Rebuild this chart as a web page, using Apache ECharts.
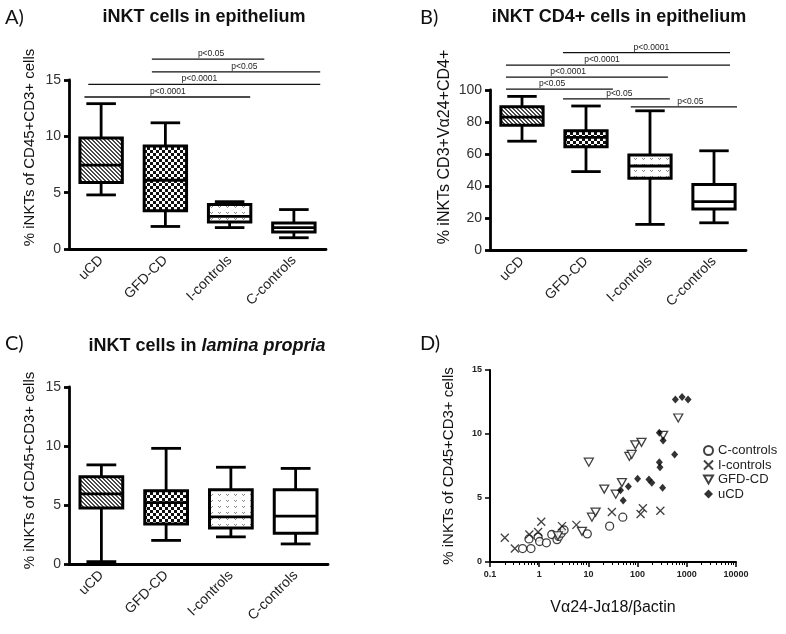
<!DOCTYPE html>
<html>
<head>
<meta charset="utf-8">
<script src="https://cdn.jsdelivr.net/npm/echarts@6/dist/echarts.min.js"></script>
<style>
  html, body { margin: 0; padding: 0; background: #fff; }
  #main { width: 786px; height: 634px; }
</style>
</head>
<body>
<div id="main"></div>
<script>
var groups = ['uCD', 'GFD-CD', 'I-controls', 'C-controls'];

// box stats per group: [min, Q1, median, Q3, max]
var epiBoxes = [[4.8, 5.9, 7.45, 9.85, 12.9], [2.0, 3.4, 6.1, 9.15, 11.2], [1.9, 2.4, 2.9, 3.95, 4.2], [1.0, 1.5, 1.9, 2.3, 3.5]];
var cd4Boxes = [[68, 78, 83, 89.6, 96], [49, 64.6, 70.4, 74.6, 90], [16, 44.8, 52.5, 59.4, 87], [17, 25.6, 30.2, 41, 62]];
var lpBoxes = [[0.2, 4.75, 5.95, 7.4, 8.4], [2.0, 3.4, 5.2, 6.2, 9.8], [2.3, 3.05, 4.0, 6.3, 8.2], [1.7, 2.6, 4.05, 6.3, 8.1]];

// significance bars: [y, from, to, label x] (x in category units), plus labels
var epiSig = [[16.86, 0.79, 2.54, 1.71], [15.73, 0.79, 3.41, 2.23], [14.61, -0.2, 3.41, 1.53], [13.49, -0.26, 2.32, 1.04]];
var epiSigText = ['p<0.05', 'p<0.05', 'p<0.0001', 'p<0.0001'];
var cd4Sig = [[123.3, 0.64, 3.25, 2.02], [115.6, -0.25, 3.25, 1.25], [108.1, -0.25, 2.28, 0.72], [100.6, -0.25, 1.42, 0.47], [94.4, 0.64, 2.31, 1.52], [89.4, 1.70, 3.36, 2.63]];
var cd4SigText = ['p<0.0001', 'p<0.0001', 'p<0.0001', 'p<0.05', 'p<0.05', 'p<0.05'];

// panel D: [V alpha24-J alpha18 / beta actin, % iNKTs]
var cControls = [[0.46, 1.05], [0.68, 1.05], [0.62, 1.8], [0.95, 1.95], [1.02, 1.6], [1.4, 1.5], [1.8, 2.15], [2.3, 1.75], [2.5, 2.0], [2.8, 2.25], [3.2, 2.5], [9.5, 2.2], [27, 2.8], [50, 3.5]];
var iControls = [[0.2, 1.9], [0.32, 1.05], [0.63, 2.15], [0.95, 2.35], [1.1, 3.15], [2.9, 2.8], [5.7, 2.9], [30, 3.9], [115, 3.75], [128, 4.2], [290, 4.0]];
var gfdCD = [[2.4, 2.05], [7.4, 2.4], [11.8, 3.5], [14, 3.9], [10.2, 7.8], [21, 5.7], [36, 5.3], [48, 6.2], [68, 8.25], [76, 8.4], [90, 9.15], [120, 9.35], [330, 9.9], [670, 11.25]];
var uCD = [[45, 5.6], [51, 4.8], [65, 5.9], [100, 6.5], [170, 6.45], [195, 6.2], [277, 7.8], [285, 7.4], [277, 10.1], [330, 9.5], [322, 5.8], [565, 8.4], [585, 12.7], [800, 12.9], [1060, 12.7]];

var FONT = 'Liberation Sans';

function makePattern(kind) {
    var c = document.createElement('canvas');
    var g = c.getContext('2d');
    if (kind === 'hatch') {
        c.width = 4; c.height = 4;
        g.fillStyle = '#fff'; g.fillRect(0, 0, 4, 4);
        g.fillStyle = '#4a4a4a';
        for (var i = 0; i < 4; i++) {
            g.fillRect(i, i, 1, 1);
            g.fillRect((i + 1) % 4, i, 1, 1);
        }
    } else if (kind === 'check') {
        c.width = 6; c.height = 6;
        g.fillStyle = '#fff'; g.fillRect(0, 0, 6, 6);
        g.fillStyle = '#111';
        g.fillRect(0, 0, 3, 3);
        g.fillRect(3, 3, 3, 3);
    } else if (kind === 'vees') {
        c.width = 8; c.height = 6;
        g.fillStyle = '#fff'; g.fillRect(0, 0, 8, 6);
        g.fillStyle = '#888';
        g.fillRect(2, 2, 1, 1);
        g.fillRect(4, 2, 1, 1);
        g.fillRect(3, 3, 1, 1);
    } else {
        c.width = 2; c.height = 2;
        g.fillStyle = '#fff'; g.fillRect(0, 0, 2, 2);
    }
    return {image: c, repeat: 'repeat'};
}
var fills = [makePattern('hatch'), makePattern('check'), makePattern('vees'), makePattern('plain')];

function boxRows(stats) {
    return stats.map(function (s, i) { return [i].concat(s); });
}

function renderBox(params, api) {
    var x = api.value(0);
    var lo = api.coord([x, api.value(1)]);
    var q1 = api.coord([x, api.value(2)]);
    var md = api.coord([x, api.value(3)]);
    var q3 = api.coord([x, api.value(4)]);
    var hi = api.coord([x, api.value(5)]);
    var bw = api.size([1, 0])[0];
    var half = bw * 0.33, cap = bw * 0.23;
    var cx = md[0];
    var st = {stroke: '#000', lineWidth: 2.8};
    return {
        type: 'group',
        children: [
            {type: 'line', shape: {x1: cx, y1: hi[1], x2: cx, y2: q3[1]}, style: st},
            {type: 'line', shape: {x1: cx, y1: q1[1], x2: cx, y2: lo[1]}, style: st},
            {type: 'line', shape: {x1: cx - cap, y1: hi[1], x2: cx + cap, y2: hi[1]}, style: st},
            {type: 'line', shape: {x1: cx - cap, y1: lo[1], x2: cx + cap, y2: lo[1]}, style: st},
            {type: 'rect', shape: {x: cx - half, y: q3[1], width: half * 2, height: q1[1] - q3[1]},
                style: {fill: fills[params.dataIndex], stroke: '#000', lineWidth: 3}},
            {type: 'line', shape: {x1: cx - half, y1: md[1], x2: cx + half, y2: md[1]}, style: st}
        ]
    };
}

function sigRenderer(texts) {
    return function (params, api) {
        var y = api.value(1);
        var base = api.coord([0, y]);
        var bw = api.size([1, 0])[0];
        var x1 = base[0] + api.value(2) * bw;
        var x2 = base[0] + api.value(3) * bw;
        var tx = base[0] + api.value(4) * bw;
        return {
            type: 'group',
            children: [
                {type: 'line', shape: {x1: x1, y1: base[1], x2: x2, y2: base[1]}, style: {stroke: '#111', lineWidth: 1.3}},
                {type: 'text', x: tx, y: base[1] - 1,
                    style: {text: texts[params.dataIndex], align: 'center', verticalAlign: 'bottom',
                        fontSize: 8.5, fill: '#222', fontFamily: FONT}}
            ]
        };
    };
}

function sigRows(sig) {
    return sig.map(function (s) { return [0, s[0], s[1], s[2], s[3]]; });
}

function catAxis(grid) {
    return {
        type: 'category', gridIndex: grid, data: groups,
        axisLine: {lineStyle: {color: '#000', width: 2.8}},
        axisTick: {alignWithLabel: true, length: 6, lineStyle: {color: '#000', width: 2.8}},
        axisLabel: {rotate: 45, fontSize: 14, color: '#222', fontFamily: FONT, margin: 9},
        splitLine: {show: false}
    };
}

function valAxis(grid, max, interval, name, nameSize, gap, shift) {
    return {
        type: 'value', gridIndex: grid, min: 0, max: max, interval: interval,
        name: name, nameLocation: 'middle', nameGap: gap,
        nameTextStyle: {fontSize: nameSize, color: '#111', fontFamily: FONT, padding: [0, 0, 0, shift]},
        axisLine: {show: true, lineStyle: {color: '#000', width: 2.8}},
        axisTick: {show: true, length: 5, lineStyle: {color: '#000', width: 2.8}},
        axisLabel: {fontSize: 14, color: '#333', fontFamily: FONT, margin: 8},
        splitLine: {show: false}
    };
}

var letterStyle = {fontSize: 20, fontWeight: 'normal', color: '#111', fontFamily: 'Lato'};
var headStyle = {fontSize: 18, fontWeight: 'bold', color: '#111', fontFamily: FONT};

var myChart = echarts.init(document.getElementById('main'));
myChart.setOption({
    backgroundColor: '#fff',
    animation: false,
    title: [
        {text: 'A)', left: 5, top: 8, padding: 0, textStyle: letterStyle},
        {text: 'iNKT cells in epithelium', left: 204, top: 8, padding: 0, textAlign: 'center', textStyle: headStyle},
        {text: 'B)', left: 420, top: 8, padding: 0, textStyle: letterStyle},
        {text: 'iNKT CD4+ cells in epithelium', left: 619, top: 8, padding: 0, textAlign: 'center', textStyle: headStyle},
        {text: 'C)', left: 5, top: 334, padding: 0, textStyle: letterStyle},
        {text: '{n|iNKT cells in }{i|lamina propria}', left: 207, top: 337, padding: 0, textAlign: 'center',
            textStyle: {rich: {
                n: {fontSize: 18, fontWeight: 'bold', color: '#111', fontFamily: FONT},
                i: {fontSize: 18, fontWeight: 'bold', fontStyle: 'italic', color: '#111', fontFamily: FONT}
            }}},
        {text: 'D)', left: 420, top: 334, padding: 0, textStyle: letterStyle}
    ],
    legend: {
        data: ['C-controls', 'I-controls', 'GFD-CD', 'uCD'],
        orient: 'vertical', left: 703, top: 444, padding: 0,
        itemWidth: 9, itemHeight: 9, itemGap: 1.5,
        textStyle: {fontSize: 13, color: '#222', fontFamily: FONT}
    },
    grid: [
        {left: 69, top: 80, width: 257, height: 169},
        {left: 490, top: 90, width: 256, height: 160},
        {left: 69, top: 387, width: 259, height: 177},
        {left: 490, top: 370, width: 246, height: 192}
    ],
    xAxis: [
        catAxis(0), catAxis(1), catAxis(2),
        {
            type: 'log', gridIndex: 3, min: 0.1, max: 10000, logBase: 10,
            name: 'V\u03b124-J\u03b118/\u03b2actin', nameLocation: 'middle', nameGap: 38,
            nameTextStyle: {fontSize: 16, color: '#111', fontFamily: FONT},
            axisLine: {lineStyle: {color: '#000', width: 2}},
            axisTick: {length: 5, lineStyle: {color: '#000', width: 1.5}},
            minorTick: {show: true, splitNumber: 9, length: 3, lineStyle: {color: '#000', width: 1}},
            axisLabel: {fontSize: 9, fontWeight: 'bold', color: '#222', fontFamily: FONT, margin: 8,
                formatter: function (v) { return String(parseFloat(v.toPrecision(6))); }},
            splitLine: {show: false}
        }
    ],
    yAxis: [
        valAxis(0, 15, 5, '% iNKTs of CD45+CD3+ cells', 15, 32, 34),
        valAxis(1, 100, 20, '% iNKTs CD3+V\u03b124+CD4+', 16, 37, 46),
        valAxis(2, 15, 5, '% iNKTs of CD45+CD3+ cells', 15, 32, 10),
        {
            type: 'value', gridIndex: 3, min: 0, max: 15, interval: 5,
            name: '% iNKTs of CD45+CD3+ cells', nameLocation: 'middle', nameGap: 34,
            nameTextStyle: {fontSize: 15, color: '#111', fontFamily: FONT},
            axisLine: {show: true, lineStyle: {color: '#000', width: 2}},
            axisTick: {show: true, length: 5, lineStyle: {color: '#000', width: 1.5}},
            axisLabel: {fontSize: 9, fontWeight: 'bold', color: '#222', fontFamily: FONT, margin: 8},
            splitLine: {show: false}
        }
    ],
    series: [
        {type: 'custom', xAxisIndex: 0, yAxisIndex: 0, renderItem: renderBox, data: boxRows(epiBoxes), clip: false},
        {type: 'custom', xAxisIndex: 1, yAxisIndex: 1, renderItem: renderBox, data: boxRows(cd4Boxes), clip: false},
        {type: 'custom', xAxisIndex: 2, yAxisIndex: 2, renderItem: renderBox, data: boxRows(lpBoxes), clip: false},
        {type: 'custom', xAxisIndex: 0, yAxisIndex: 0, renderItem: sigRenderer(epiSigText), data: sigRows(epiSig), clip: false},
        {type: 'custom', xAxisIndex: 1, yAxisIndex: 1, renderItem: sigRenderer(cd4SigText), data: sigRows(cd4Sig), clip: false},
        {
            name: 'C-controls', type: 'scatter', xAxisIndex: 3, yAxisIndex: 3, data: cControls,
            symbol: 'circle', symbolSize: 8,
            itemStyle: {color: '#fff', borderColor: '#111', borderWidth: 1.3}
        },
        {
            name: 'I-controls', type: 'scatter', xAxisIndex: 3, yAxisIndex: 3, data: iControls,
            symbol: 'path://M0,0L10,10M10,0L0,10', symbolSize: 8,
            itemStyle: {color: '#111', borderColor: '#111', borderWidth: 1.3}
        },
        {
            name: 'GFD-CD', type: 'scatter', xAxisIndex: 3, yAxisIndex: 3, data: gfdCD,
            symbol: 'path://M0,0L10,0L5,8.7Z', symbolSize: [9, 8],
            itemStyle: {color: '#fff', borderColor: '#111', borderWidth: 1.3}
        },
        {
            name: 'uCD', type: 'scatter', xAxisIndex: 3, yAxisIndex: 3, data: uCD,
            symbol: 'diamond', symbolSize: [7, 8],
            itemStyle: {color: '#000'}
        }
    ]
});
</script>
</body>
</html>
